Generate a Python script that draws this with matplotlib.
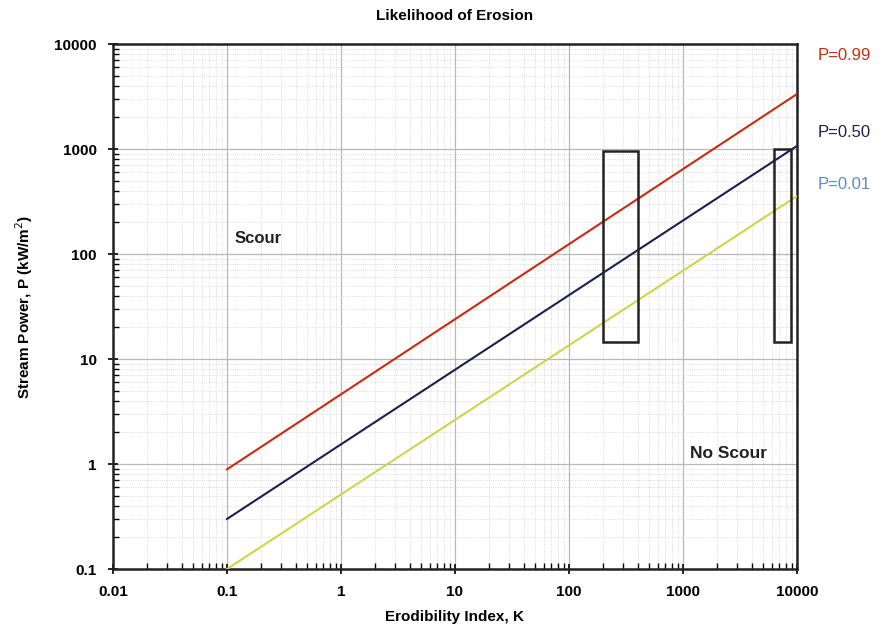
import matplotlib
matplotlib.use("Agg")
import matplotlib.pyplot as plt
from matplotlib.patches import Rectangle
import numpy as np

plt.rcParams['font.family'] = ['Liberation Sans', 'DejaVu Sans']

# Data
k_ends = [0.1, 10000]
curves = {
    "P=0.99": [0.89, 3340],
    "P=0.50": [0.30, 1070],
    "P=0.01": [0.10, 356],
}
curve_colors = {"P=0.99": "#cc2a10", "P=0.50": "#1c1f4f", "P=0.01": "#c8d84a"}
label_colors = {"P=0.99": "#d02a10", "P=0.50": "#1c1f4f", "P=0.01": "#5a8ad0"}
boxes = [  # (k_min, k_max, p_min, p_max)
    (200, 400, 14.5, 950),
    (6300, 8850, 14.5, 1000),
]
label_y = {"P=0.99": 7700, "P=0.50": 1450, "P=0.01": 464}

fig = plt.figure(figsize=(8.86, 6.38), dpi=100)
ax = fig.add_axes([0.1275, 0.108, 0.772, 0.823])
ax.set_xscale('log')
ax.set_yscale('log')
ax.set_xlim(0.01, 10000)
ax.set_ylim(0.1, 10000)

ax.grid(True, which='major', color='#b8b8b8', linewidth=0.9, linestyle='-')
ax.grid(True, which='minor', color='#cfcfcf', linewidth=0.6, linestyle=':')
ax.set_axisbelow(True)

for name, vals in curves.items():
    ax.plot(k_ends, vals, color=curve_colors[name], linewidth=1.5, zorder=3)
    ax.text(1.03, label_y[name], name, transform=ax.get_yaxis_transform(),
            color=label_colors[name], fontsize=12, va='center', ha='left')

for (x0, x1, y0, y1) in boxes:
    ax.add_patch(Rectangle((x0, y0), x1 - x0, y1 - y0, fill=False,
                           edgecolor='#222222', linewidth=1.8, zorder=4))

ax.text(0.117, 142, "Scour", fontsize=12, fontweight='bold', color='#222222', va='center')
ax.text(1150, 1.27, "No Scour", fontsize=12.5, fontweight='bold', color='#222222', va='center')

ax.set_xticks([0.01, 0.1, 1, 10, 100, 1000, 10000])
ax.set_xticklabels(["0.01", "0.1", "1", "10", "100", "1000", "10000"])
ax.set_yticks([0.1, 1, 10, 100, 1000, 10000])
ax.set_yticklabels(["0.1", "1", "10", "100", "1000", "10000"])
ax.tick_params(axis='both', which='major', direction='inout', length=7, width=1.2,
               labelsize=11, pad=8)
ax.tick_params(axis='both', which='minor', direction='in', length=4, width=1)
ax.tick_params(top=False, right=False, which='both')
for lbl in ax.get_xticklabels() + ax.get_yticklabels():
    lbl.set_fontweight('bold')

for s in ['left', 'bottom', 'right', 'top']:
    ax.spines[s].set_linewidth(1.8)
    ax.spines[s].set_color('#222222')

ax.set_xlabel("Erodibility Index, K", fontsize=11, fontweight='bold', labelpad=8)
ax.set_ylabel("Stream Power, P (kW/m$^2$)", fontsize=11, fontweight='bold', labelpad=14)
ax.set_title("Likelihood of Erosion", fontsize=11, fontweight='bold', pad=17)

fig.savefig("out.png", dpi=100)
